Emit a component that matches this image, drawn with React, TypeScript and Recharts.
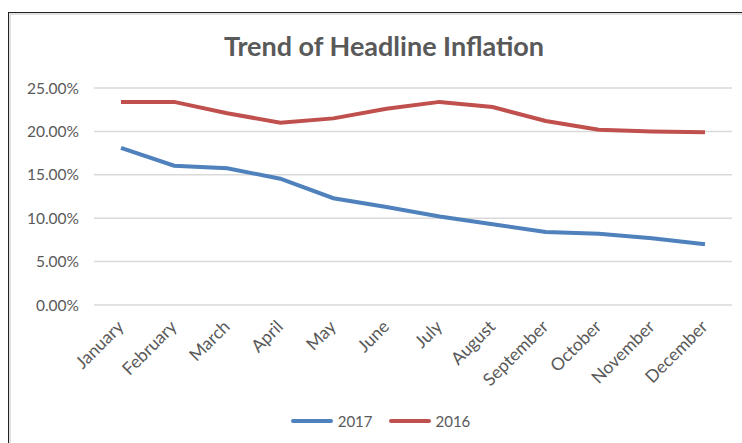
import { CartesianGrid, Legend, Line, LineChart, XAxis, YAxis } from "recharts";

const months = [
  "January",
  "February",
  "March",
  "April",
  "May",
  "June",
  "July",
  "August",
  "September",
  "October",
  "November",
  "December",
];
const y2017 = [18.1, 16.05, 15.75, 14.55, 12.3, 11.3, 10.2, 9.3, 8.4, 8.2, 7.7, 7.0];
const y2016 = [23.4, 23.4, 22.1, 21.0, 21.5, 22.6, 23.4, 22.8, 21.2, 20.2, 20.0, 19.9];
const yTicks = [0, 5, 10, 15, 20, 25];
const legendOrder = ["2017", "2016"];

const data = months.map((m, i) => ({ month: m, y2017: y2017[i], y2016: y2016[i] }));

const textColor = "#595959";
const font = 'Lato, "Liberation Sans", sans-serif';
const yTickStyle = { fontSize: 15.5, fill: textColor, fontFamily: font };

// rotated month labels, nudged to sit like Excel's
const MonthTick = ({
  x,
  y,
  payload,
}: {
  x?: number;
  y?: number;
  payload?: { value: string };
}) => (
  <g transform={`translate(${(x ?? 0) - 5},${(y ?? 0) + 4})`}>
    <text
      x={0}
      y={0}
      dy="0.71em"
      textAnchor="end"
      transform="rotate(-45)"
      fill={textColor}
      fontSize={17.5}
      fontFamily={font}
    >
      {payload?.value}
    </text>
  </g>
);

const ExcelLegend = ({ payload }: { payload?: { value: string; color: string }[] }) => {
  const items = [...(payload ?? [])].sort(
    (a, b) => legendOrder.indexOf(a.value) - legendOrder.indexOf(b.value),
  );
  return (
    <div
      style={{
        display: "flex",
        justifyContent: "center",
        gap: 16,
        paddingLeft: 20,
        fontFamily: font,
        fontSize: 15,
        color: textColor,
      }}
    >
      {items.map((p) => (
        <div key={p.value} style={{ display: "flex", alignItems: "center", gap: 5 }}>
          <span
            style={{
              display: "inline-block",
              width: 42,
              height: 4,
              borderRadius: 2,
              background: p.color,
            }}
          />
          <span>{p.value}</span>
        </div>
      ))}
    </div>
  );
};

export default function App() {
  return (
    <div
      style={{
        position: "absolute",
        left: 8,
        top: 12,
        width: 734,
        height: 431,
        borderTop: "1px solid #222",
        borderLeft: "1px solid #222",
        boxShadow: "inset 2px 2px 0 #e0e0e0",
        background: "#fff",
        boxSizing: "border-box",
      }}
    >
      <div
        style={{
          position: "absolute",
          top: 16,
          left: 0,
          width: 750,
          textAlign: "center",
          fontFamily: font,
          fontWeight: 700,
          fontSize: 27,
          color: textColor,
        }}
      >
        Trend of Headline Inflation
      </div>
      <LineChart
        width={733}
        height={430}
        data={data}
        margin={{ top: 75, right: 10, bottom: 11, left: 0 }}
      >
        <CartesianGrid stroke="#d9d9d9" strokeWidth={1.5} vertical={false} />
        <XAxis
          dataKey="month"
          interval={0}
          padding={{ left: 27, right: 27 }}
          axisLine={false}
          tickLine={false}
          tick={<MonthTick />}
          tickMargin={4}
          height={107}
        />
        <YAxis
          domain={[0, 25]}
          ticks={yTicks}
          tickFormatter={(v: number) => `${v.toFixed(2)}%`}
          axisLine={false}
          tickLine={false}
          tick={yTickStyle}
          tickMargin={9}
          width={85}
        />
        <Legend verticalAlign="bottom" height={20} content={<ExcelLegend />} />
        <Line
          dataKey="y2017"
          name="2017"
          stroke="#4f81bd"
          strokeWidth={4}
          dot={false}
          isAnimationActive={false}
        />
        <Line
          dataKey="y2016"
          name="2016"
          stroke="#c0504d"
          strokeWidth={4}
          dot={false}
          isAnimationActive={false}
        />
      </LineChart>
    </div>
  );
}
